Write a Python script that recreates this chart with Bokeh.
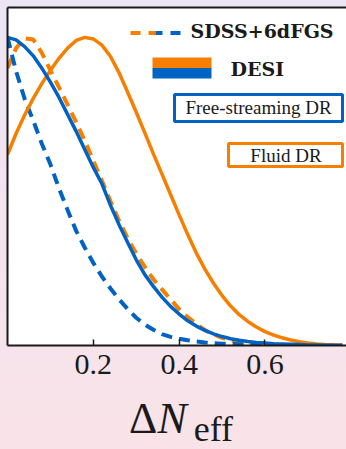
from bokeh.plotting import figure
from bokeh.layouts import column
from bokeh.models import Range1d, LinearAxis, FixedTicker
from bokeh.core.properties import value
from bokeh.embed import file_html
from bokeh.resources import INLINE

# Normalised 1D posteriors of Delta N_eff, sampled every 0.02
dneff = [0.00, 0.02, 0.04, 0.06, 0.08, 0.10, 0.12, 0.14, 0.16, 0.18,
         0.20, 0.22, 0.24, 0.26, 0.28, 0.30, 0.32, 0.34, 0.36, 0.38,
         0.40, 0.42, 0.44, 0.46, 0.48, 0.50, 0.52, 0.54, 0.56, 0.58,
         0.60, 0.62, 0.64, 0.66, 0.68, 0.70, 0.72, 0.74, 0.76, 0.78]

# DESI, free-streaming dark radiation
p_desi_fs = [1.000, 0.992, 0.970, 0.940, 0.900, 0.855, 0.805, 0.750, 0.695, 0.636,
             0.578, 0.525, 0.455, 0.392, 0.334, 0.278, 0.230, 0.192, 0.157, 0.127,
             0.102, 0.080, 0.063, 0.049, 0.038, 0.029, 0.022, 0.017, 0.013, 0.010,
             0.008, 0.006, 0.005, 0.004, 0.003, 0.002, 0.002, 0.001, 0.001, 0.001]

# SDSS+6dFGS, free-streaming dark radiation
p_sdss_fs = [1.000, 0.890, 0.800, 0.730, 0.655, 0.588, 0.510, 0.440, 0.372, 0.318,
             0.268, 0.224, 0.185, 0.150, 0.118, 0.090, 0.068, 0.051, 0.037, 0.028,
             0.022, 0.017, 0.013, 0.010, 0.008, 0.006, 0.005, 0.004, 0.003, 0.002,
             0.002, 0.001, 0.001, 0.001, 0.000, 0.000, 0.000, 0.000, 0.000, 0.000]

# SDSS+6dFGS, fluid dark radiation
p_sdss_fl = [0.900, 0.965, 0.997, 0.993, 0.950, 0.893, 0.838, 0.782, 0.725, 0.665,
             0.600, 0.535, 0.468, 0.405, 0.348, 0.298, 0.255, 0.215, 0.182, 0.150,
             0.118, 0.092, 0.070, 0.050, 0.036, 0.025, 0.017, 0.012, 0.009, 0.006,
             0.004, 0.003, 0.002, 0.001, 0.001, 0.000, 0.000, 0.000, 0.000, 0.000]

# DESI, fluid dark radiation
p_desi_fl = [0.620, 0.688, 0.748, 0.802, 0.850, 0.893, 0.932, 0.965, 0.990, 1.000,
             0.995, 0.975, 0.938, 0.885, 0.822, 0.757, 0.690, 0.622, 0.556, 0.490,
             0.424, 0.360, 0.300, 0.248, 0.202, 0.162, 0.128, 0.100, 0.078, 0.060,
             0.045, 0.034, 0.025, 0.018, 0.012, 0.008, 0.005, 0.003, 0.002, 0.001]

tick_values = [0.2, 0.4, 0.6]

ORANGE = "#f77f00"
BLUE = "#0062c2"
INK = "#1a1a1a"
SERIF = "Liberation Serif"
BOLD_SERIF = "DejaVu Serif"

W, H = 346, 449
TOP_H = 390                      # main figure height; the axis title sits below it
LEFT, TOP, BOTTOM = 7, 7, 345
X_END, Y_END = 0.79, 1.097

p = figure(width=W, height=TOP_H, output_backend="svg", toolbar_location=None,
           x_range=Range1d(0, X_END), y_range=Range1d(0, Y_END),
           x_axis_location=None, y_axis_location=None,
           min_border_left=LEFT, min_border_right=0, min_border_top=TOP,
           min_border_bottom=TOP_H - BOTTOM)
p.grid.visible = False
p.outline_line_color = None
p.background_fill_color = "white"
p.border_fill_alpha = 0

# pixel -> data helpers for annotation placement
sx = (W - LEFT) / X_END
sy = (BOTTOM - TOP) / Y_END
def dx(px):
    return (px - LEFT) / sx
def dy(py):
    return (BOTTOM - py) / sy

def put_text(fig, x, y, s, font, size, style="normal", align="left"):
    # y is the vertical middle of the text line
    fig.text(x=[x], y=[y], text=[s], text_font=value(font), text_font_size=size,
             text_font_style=style, text_color=INK, text_align=align,
             text_baseline="middle")

# frame lines: left, top, bottom (with inward ticks)
for loc in ("left", "above"):
    ax = LinearAxis(ticker=FixedTicker(ticks=[]), axis_line_color=INK, axis_line_width=2,
                    major_tick_out=0, minor_tick_out=0, major_label_standoff=0,
                    axis_label_standoff=0)
    p.add_layout(ax, loc)

xax = LinearAxis(ticker=FixedTicker(ticks=tick_values), axis_line_color=INK, axis_line_width=2,
                 major_tick_in=6, major_tick_out=0, major_tick_line_color=INK,
                 major_tick_line_width=1.5, minor_tick_line_color=None,
                 major_label_standoff=9, major_label_text_font=SERIF,
                 major_label_text_font_size="30px", major_label_text_color=INK)
p.add_layout(xax, "below")

dash = "11 7"
p.line(dneff, p_sdss_fl, line_color=ORANGE, line_width=4, line_dash=dash)
p.line(dneff, p_sdss_fs, line_color=BLUE, line_width=4, line_dash=dash)
p.line(dneff, p_desi_fl, line_color=ORANGE, line_width=3.5)
p.line(dneff, p_desi_fs, line_color=BLUE, line_width=3.5)

# legend: dashed sample (orange then blue) and split colour patch
p.line([dx(130), dx(155)], [dy(32.5), dy(32.5)], line_color=ORANGE, line_width=4, line_dash="10 8")
p.line([dx(155), dx(180)], [dy(32.5), dy(32.5)], line_color=BLUE, line_width=4,
       line_dash="10 8", line_dash_offset=3)
p.quad(left=[dx(152)], right=[dx(211)], top=[dy(57)], bottom=[dy(67.5)],
       fill_color=ORANGE, line_color=None)
p.quad(left=[dx(152)], right=[dx(211)], top=[dy(67.5)], bottom=[dy(78)],
       fill_color=BLUE, line_color=None)
put_text(p, dx(190), dy(30.5), "SDSS+6dFGS", BOLD_SERIF, "19px", style="bold")
put_text(p, dx(230), dy(68), "DESI", BOLD_SERIF, "19px", style="bold")

# model boxes
p.quad(left=[dx(174)], right=[dx(342)], top=[dy(94)], bottom=[dy(121)],
       fill_color="white", line_color=BLUE, line_width=3)
put_text(p, dx(258), dy(106.5), "Free-streaming DR", SERIF, "19px", align="center")
p.quad(left=[dx(228)], right=[dx(342)], top=[dy(143)], bottom=[dy(166)],
       fill_color="white", line_color=ORANGE, line_width=3)
put_text(p, dx(285.5), dy(155), "Fluid DR", SERIF, "19px", align="center")

# strip below the main figure carrying the x-axis title: Delta N_eff
BOT_H = H - TOP_H
q = figure(width=W, height=BOT_H, output_backend="svg", toolbar_location=None,
           x_range=Range1d(0, W), y_range=Range1d(0, BOT_H),
           x_axis_location=None, y_axis_location=None,
           min_border_left=0, min_border_right=0, min_border_top=0, min_border_bottom=0)
q.grid.visible = False
q.outline_line_color = None
q.background_fill_alpha = 0
q.border_fill_alpha = 0
put_text(q, 124, H - 418, "Δ", SERIF, "44px")
put_text(q, 153, H - 418, "N", SERIF, "44px", style="italic")
put_text(q, 190, H - 428.5, "eff", SERIF, "36px")

layout = column(p, q, spacing=0, width=W, height=H)
layout.styles = {"background": "linear-gradient(180deg, #ece5f4 0%, #f4e4ef 50%, #f9e3e8 100%)"}

open("out.html", "w").write(file_html(layout, INLINE))
